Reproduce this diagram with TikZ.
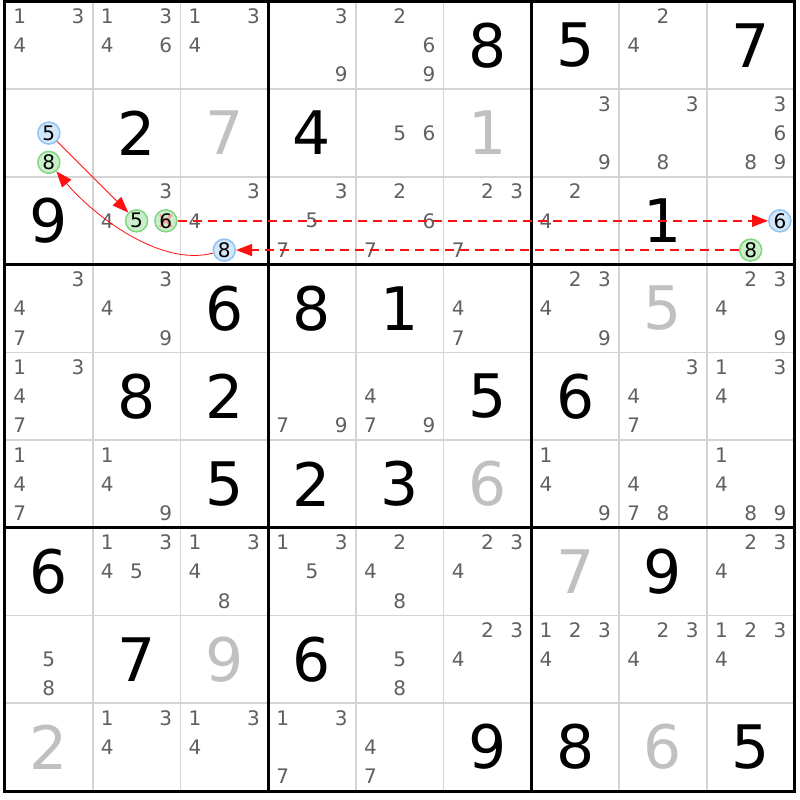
\documentclass[tikz,border=0pt]{standalone}
\usepackage{fontspec}
\setmainfont{DejaVu Sans}
\usetikzlibrary{arrows.meta}

\definecolor{candgray}{HTML}{606060}
\definecolor{solvedgray}{HTML}{C0C0C0}
\definecolor{gridgray}{HTML}{D4D4D4}
\definecolor{bluefill}{HTML}{D3E7FB}
\definecolor{blueline}{HTML}{90C2F2}
\definecolor{greenfill}{HTML}{CBEFCB}
\definecolor{greenline}{HTML}{82D682}
\definecolor{linkred}{HTML}{FF1010}

% one candidate: \putcand[style]{row}{col}{digit}
\newcommand{\putcand}[4][]{%
  \pgfmathsetmacro{\candx}{#3-1+(mod(#4-1,3)+0.5)/3}%
  \pgfmathsetmacro{\candy}{10-#2-(floor((#4-1)/3)+0.5)/3}%
  \node[cand,#1] (c#2#3-#4) at (\candx,\candy) {#4};}
\newcommand{\putcands}[3]{\foreach \d in {#3}{\putcand{#1}{#2}{\d}}}
\newcommand{\putgiven}[3]{\node[given] (g#1#2) at (#2-0.5,9.5-#1) {#3};}
\newcommand{\putsolved}[3]{\node[given,text=solvedgray] (g#1#2) at (#2-0.5,9.5-#1) {#3};}

\begin{document}
\begin{tikzpicture}[x=87.72pt,y=87.72pt,
  cand/.style={text=candgray,inner sep=0pt,font=\fontsize{20}{24}\selectfont},
  given/.style={inner sep=0pt,font=\fontsize{60}{70}\selectfont},
  bluemark/.style={circle,text=black,fill=bluefill,draw=blueline,line width=1.5pt,minimum size=22pt},
  greenmark/.style={circle,text=black,fill=greenfill,draw=greenline,line width=1.5pt,minimum size=22pt},
  crossmark/.style={path picture={
    \draw[red!40,line width=2pt]
      ([shift={(-6pt,-6pt)}]path picture bounding box.center) -- ([shift={(6pt,6pt)}]path picture bounding box.center)
      ([shift={(-6pt,6pt)}]path picture bounding box.center) -- ([shift={(6pt,-6pt)}]path picture bounding box.center);}},
  link/.style={color=linkred,line width=0.8pt,-{Triangle[length=16pt,width=12pt]}},
  dashlink/.style={link,line width=1.5pt,dash pattern=on 9pt off 6pt}]
\useasboundingbox (-5pt,-9pt) rectangle (795pt,791pt);
\fill[white] (-5pt,-9pt) rectangle (795pt,791pt);

% grid
\foreach \i in {1,2,4,5,7,8}{
  \draw[gridgray,line width=1.6pt] (\i,0) -- (\i,9);
  \draw[gridgray,line width=1.6pt] (0,\i) -- (9,\i);
}
\foreach \i in {3,6}{
  \draw[line width=3pt] (\i,0) -- (\i,9);
  \draw[line width=3pt] (0,\i) -- (9,\i);
}
\draw[line width=3pt] (0,0) rectangle (9,9);

% row 1
\putcands{1}{1}{1,3,4} \putcands{1}{2}{1,3,4,6} \putcands{1}{3}{1,3,4}
\putcands{1}{4}{3,9} \putcands{1}{5}{2,6,9} \putgiven{1}{6}{8}
\putgiven{1}{7}{5} \putcands{1}{8}{2,4} \putgiven{1}{9}{7}
% row 2
\putcand[bluemark]{2}{1}{5} \putcand[greenmark]{2}{1}{8}
\putgiven{2}{2}{2} \putsolved{2}{3}{7}
\putgiven{2}{4}{4} \putcands{2}{5}{5,6} \putsolved{2}{6}{1}
\putcands{2}{7}{3,9} \putcands{2}{8}{3,8} \putcands{2}{9}{3,6,8,9}
% row 3
\putgiven{3}{1}{9}
\putcands{3}{2}{3,4} \putcand[greenmark]{3}{2}{5} \putcand[greenmark,crossmark]{3}{2}{6}
\putcands{3}{3}{3,4} \putcand[bluemark]{3}{3}{8}
\putcands{3}{4}{3,5,7} \putcands{3}{5}{2,6,7} \putcands{3}{6}{2,3,7}
\putcands{3}{7}{2,4} \putgiven{3}{8}{1}
\putcand[bluemark]{3}{9}{6} \putcand[greenmark]{3}{9}{8}
% row 4
\putcands{4}{1}{3,4,7} \putcands{4}{2}{3,4,9} \putgiven{4}{3}{6}
\putgiven{4}{4}{8} \putgiven{4}{5}{1} \putcands{4}{6}{4,7}
\putcands{4}{7}{2,3,4,9} \putsolved{4}{8}{5} \putcands{4}{9}{2,3,4,9}
% row 5
\putcands{5}{1}{1,3,4,7} \putgiven{5}{2}{8} \putgiven{5}{3}{2}
\putcands{5}{4}{7,9} \putcands{5}{5}{4,7,9} \putgiven{5}{6}{5}
\putgiven{5}{7}{6} \putcands{5}{8}{3,4,7} \putcands{5}{9}{1,3,4}
% row 6
\putcands{6}{1}{1,4,7} \putcands{6}{2}{1,4,9} \putgiven{6}{3}{5}
\putgiven{6}{4}{2} \putgiven{6}{5}{3} \putsolved{6}{6}{6}
\putcands{6}{7}{1,4,9} \putcands{6}{8}{4,7,8} \putcands{6}{9}{1,4,8,9}
% row 7
\putgiven{7}{1}{6} \putcands{7}{2}{1,3,4,5} \putcands{7}{3}{1,3,4,8}
\putcands{7}{4}{1,3,5} \putcands{7}{5}{2,4,8} \putcands{7}{6}{2,3,4}
\putsolved{7}{7}{7} \putgiven{7}{8}{9} \putcands{7}{9}{2,3,4}
% row 8
\putcands{8}{1}{5,8} \putgiven{8}{2}{7} \putsolved{8}{3}{9}
\putgiven{8}{4}{6} \putcands{8}{5}{5,8} \putcands{8}{6}{2,3,4}
\putcands{8}{7}{1,2,3,4} \putcands{8}{8}{2,3,4} \putcands{8}{9}{1,2,3,4}
% row 9
\putsolved{9}{1}{2} \putcands{9}{2}{1,3,4} \putcands{9}{3}{1,3,4}
\putcands{9}{4}{1,3,7} \putcands{9}{5}{4,7} \putgiven{9}{6}{9}
\putgiven{9}{7}{8} \putsolved{9}{8}{6} \putgiven{9}{9}{5}

% chain
\path[link] (c21-5) edge (c32-5);
\path[dashlink] (c32-6) edge (c39-6);
\path[dashlink] (c39-8) edge (c33-8);
\path[link] (c33-8) edge[out=195,in=-50,looseness=0.8] (c21-8);
\end{tikzpicture}
\end{document}
